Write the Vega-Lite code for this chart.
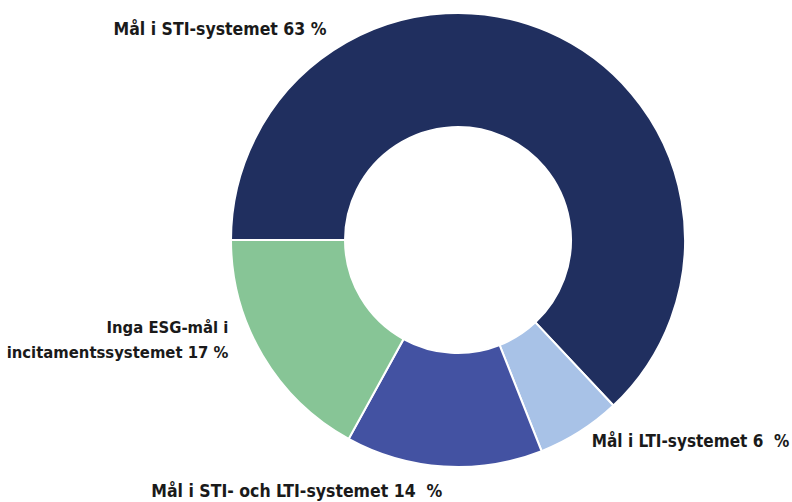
{
  "$schema": "https://vega.github.io/schema/vega-lite/v6.json",
  "width": 668,
  "height": 480,
  "autosize": {"type": "none"},
  "padding": {"left": 124, "right": 0, "top": 0, "bottom": 22},
  "background": "white",
  "config": {"view": {"stroke": null}},
  "data": {
    "values": [
      {"idx": 1, "key": "sti", "label": "Mål i STI-systemet 63 %", "value": 63},
      {"idx": 2, "key": "lti", "label": "Mål i LTI-systemet 6\u00a0 %", "value": 6},
      {"idx": 3, "key": "both", "label": "Mål i STI- och LTI-systemet 14\u00a0 %", "value": 14},
      {"idx": 4, "key": "none", "label": "Inga ESG-mål i\nincitamentssystemet 17 %", "value": 17}
    ]
  },
  "transform": [
    {"stack": "value", "groupby": [], "sort": [{"field": "idx", "order": "ascending"}], "as": ["v0", "v1"]}
  ],
  "layer": [
    {
      "mark": {"type": "arc", "outerRadius": 227, "innerRadius": 113, "stroke": "white", "strokeWidth": 2},
      "encoding": {
        "theta": {"field": "v0", "type": "quantitative", "scale": {"domain": [0, 100], "range": [4.712389, 10.995574]}},
        "theta2": {"field": "v1"},
        "color": {
          "field": "key", "type": "nominal", "legend": null,
          "scale": {"domain": ["sti", "lti", "both", "none"], "range": ["#202f5f", "#a8c2e7", "#4352a2", "#87c596"]}
        }
      }
    },
    {
      "transform": [{"filter": "datum.key == 'sti'"}],
      "mark": {"type": "text", "radius": 240, "align": "center", "baseline": "middle", "dx": 2, "dy": -210, "font": "DejaVu Sans Condensed", "fontWeight": "bold", "fontSize": 17.5, "fill": "#1a1a1a"},
      "encoding": {"theta": {"field": "v0", "type": "quantitative"}, "text": {"field": "label"}}
    },
    {
      "transform": [{"filter": "datum.key == 'lti'"}],
      "mark": {"type": "text", "radius": 240, "align": "right", "baseline": "middle", "dx": 167, "dy": 27, "font": "DejaVu Sans Condensed", "fontWeight": "bold", "fontSize": 17, "fill": "#1a1a1a"},
      "encoding": {"theta": {"field": "v0", "type": "quantitative"}, "text": {"field": "label"}}
    },
    {
      "transform": [{"filter": "datum.key == 'both'"}],
      "mark": {"type": "text", "radius": 240, "align": "right", "baseline": "middle", "dx": -104, "dy": 29, "font": "DejaVu Sans Condensed", "fontWeight": "bold", "fontSize": 17.5, "fill": "#1a1a1a"},
      "encoding": {"theta": {"field": "v0", "type": "quantitative"}, "text": {"field": "label"}}
    },
    {
      "transform": [{"filter": "datum.key == 'none'"}],
      "mark": {"type": "text", "radius": 240, "align": "right", "baseline": "middle", "lineBreak": "\n", "lineHeight": 25, "dx": -114, "dy": -122, "font": "DejaVu Sans Condensed", "fontWeight": "bold", "fontSize": 16.5, "fill": "#1a1a1a"},
      "encoding": {"theta": {"field": "v0", "type": "quantitative"}, "text": {"field": "label"}}
    }
  ]
}
